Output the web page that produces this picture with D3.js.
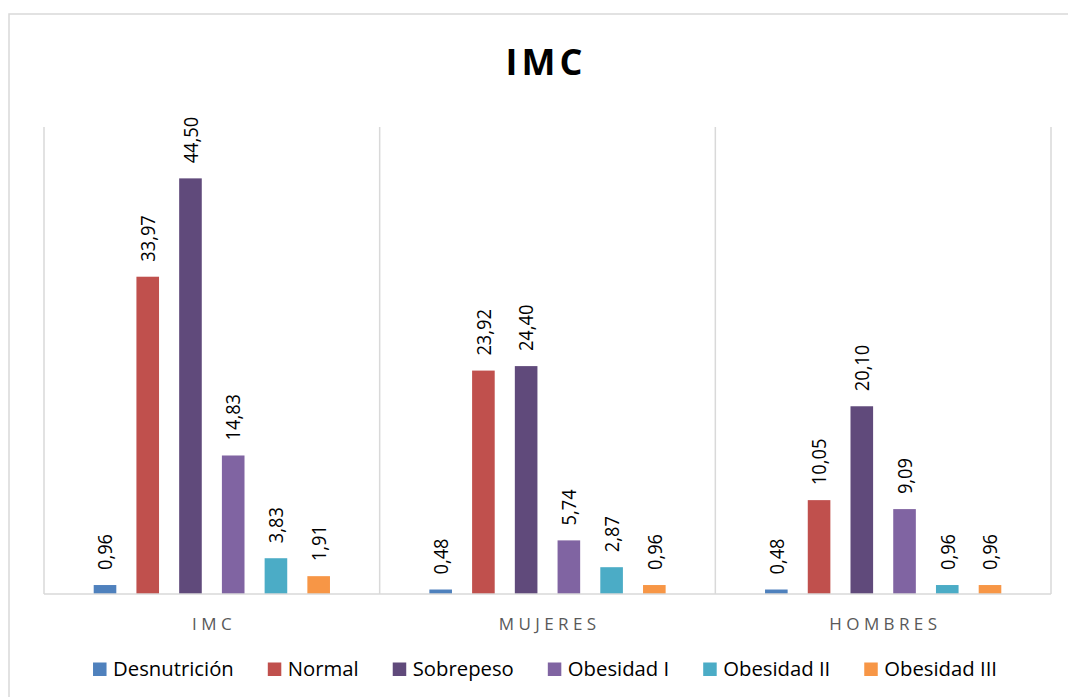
<!DOCTYPE html>
<html>
<head>
<meta charset="utf-8">
<script src="https://cdn.jsdelivr.net/npm/d3@7"></script>
<style>
  html, body { margin: 0; padding: 0; background: #fff; }
  svg { display: block; font-family: "Open Sans", "Noto Sans", sans-serif; }
</style>
</head>
<body>
<svg id="chart" width="1068" height="697"></svg>
<script>
// Category groups along the x axis
const categories = ["IMC", "MUJERES", "HOMBRES"];
// BMI classes (one bar per class in each group)
const series = ["Desnutrición", "Normal", "Sobrepeso", "Obesidad I", "Obesidad II", "Obesidad III"];
const seriesColors = ["#4F81BD", "#C0504D", "#604A7B", "#8064A2", "#4BACC6", "#F79646"];
// Percentages per class, in the order of `categories`
const desnutricion = [0.96, 0.48, 0.48];
const normal       = [33.97, 23.92, 10.05];
const sobrepeso    = [44.50, 24.40, 20.10];
const obesidadI    = [14.83, 5.74, 9.09];
const obesidadII   = [3.83, 2.87, 0.96];
const obesidadIII  = [1.91, 0.96, 0.96];
const yDomain = [0, 50];

const valuesBySeries = [desnutricion, normal, sobrepeso, obesidadI, obesidadII, obesidadIII];
const rows = categories.map((c, ci) => ({
  category: c,
  bars: series.map((s, si) => ({ series: s, value: valuesBySeries[si][ci], color: seriesColors[si] }))
}));

const svg = d3.select("#chart");
const plot = { left: 44, right: 1051, top: 127, bottom: 594 };
const grid = "#d9d9d9";

// Outer chart frame
svg.append("rect")
  .attr("x", 9).attr("y", 14)
  .attr("width", 1100).attr("height", 800)
  .attr("fill", "#fff")
  .attr("stroke", grid).attr("stroke-width", 1.5);

// Title
svg.append("text")
  .attr("x", 544 + 2).attr("y", 75)
  .attr("text-anchor", "middle")
  .attr("font-size", 36).attr("font-weight", 700)
  .attr("letter-spacing", 4)
  .attr("fill", "#000")
  .text("IMC");

const x0 = d3.scaleBand().domain(categories).range([plot.left, plot.right]).padding(0);
const x1 = d3.scaleBand().domain(series).range([0, x0.bandwidth()])
  .paddingInner(0.471).paddingOuter(1.163);
const y = d3.scaleLinear().domain(yDomain).range([plot.bottom, plot.top]);

// Vertical separators between category groups
const bounds = categories.map(c => x0(c)).concat([plot.right]);
svg.append("g").selectAll("line").data(bounds).join("line")
  .attr("x1", d => d).attr("x2", d => d)
  .attr("y1", y(yDomain[1])).attr("y2", plot.bottom)
  .attr("stroke", grid).attr("stroke-width", 1.5);

// Bars
const groups = svg.append("g").selectAll("g").data(rows).join("g")
  .attr("transform", d => `translate(${x0(d.category)},0)`);

groups.selectAll("rect").data(d => d.bars).join("rect")
  .attr("x", d => x1(d.series))
  .attr("y", d => y(d.value))
  .attr("width", x1.bandwidth())
  .attr("height", d => y(0) - y(d.value))
  .attr("fill", d => d.color);

// Rotated value labels above each bar
const fmt = v => d3.format(".2f")(v).replace(".", ",");
groups.selectAll("text").data(d => d.bars).join("text")
  .attr("transform", d => `translate(${x1(d.series) + x1.bandwidth() / 2},${y(d.value) - 15}) rotate(-90) scale(1,1.1)`)
  .attr("dy", "0.36em")
  .attr("font-size", 18.3)
  .attr("fill", "#000")
  .text(d => fmt(d.value));

// Baseline
svg.append("line")
  .attr("x1", plot.left).attr("x2", plot.right)
  .attr("y1", plot.bottom).attr("y2", plot.bottom)
  .attr("stroke", grid).attr("stroke-width", 1.5);

// Category axis labels
const ls = 4.4;
const xAxis = d3.axisBottom(x0).tickSize(0).tickPadding(0);
const axisG = svg.append("g").attr("transform", `translate(0,${plot.bottom})`).call(xAxis);
axisG.select(".domain").remove();
axisG.selectAll("text")
  .attr("y", 35.5).attr("dy", 0)
  .attr("dx", ls / 2)
  .attr("font-family", "'Open Sans', 'Noto Sans', sans-serif")
  .attr("font-size", 17)
  .attr("letter-spacing", ls)
  .attr("fill", "#595959");

// Legend, centred under the plot
const legend = svg.append("g");
const items = legend.selectAll("g").data(series).join("g");
items.append("rect").attr("width", 13.5).attr("height", 13.5).attr("y", -13.5)
  .attr("fill", (d, i) => seriesColors[i]);
items.append("text").attr("x", 20).attr("y", 0)
  .attr("font-size", 20.3).attr("fill", "#000")
  .text(d => d);
let cx = 0;
const gap = 34;
items.each(function () {
  const t = d3.select(this).select("text").node().getComputedTextLength();
  d3.select(this).attr("transform", `translate(${cx},0)`);
  cx += 20 + t + gap;
});
const total = cx - gap;
legend.attr("transform", `translate(${545 - total / 2},676)`);
</script>
</body>
</html>
